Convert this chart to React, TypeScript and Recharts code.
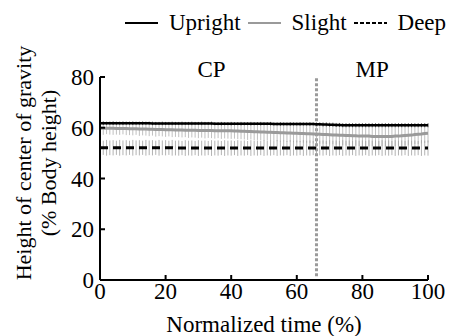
import React from 'react';
import { LineChart, Line, XAxis, YAxis, ErrorBar, ReferenceLine, ReferenceDot, Legend, Label } from 'recharts';

const FONT = '"Liberation Serif"';
const fontCss = `#root, #root *, .recharts-wrapper, .recharts-wrapper *, .recharts-wrapper svg text, .recharts-wrapper svg tspan { font-family: "Liberation Serif", "Times New Roman", Times, serif !important; }`;

const xTicks = [0, 20, 40, 60, 80, 100];
const yTicks = [0, 20, 40, 60, 80];
const phaseLabels = ['CP', 'MP'];
const phaseLabelX = [34, 83];
const phaseBoundary = 66;

const upright = [
  61.8, 61.8, 61.8, 61.8, 61.8, 61.8, 61.8, 61.8, 61.8, 61.8,
  61.8, 61.8, 61.8, 61.8, 61.8, 61.8, 61.7, 61.7, 61.7, 61.7,
  61.7, 61.7, 61.7, 61.7, 61.7, 61.7, 61.7, 61.7, 61.7, 61.7,
  61.7, 61.7, 61.7, 61.7, 61.7, 61.6, 61.6, 61.6, 61.6, 61.6,
  61.6, 61.6, 61.6, 61.6, 61.6, 61.6, 61.6, 61.6, 61.6, 61.6,
  61.6, 61.6, 61.6, 61.5, 61.5, 61.5, 61.5, 61.5, 61.5, 61.5,
  61.5, 61.5, 61.5, 61.5, 61.5, 61.5, 61.4, 61.4, 61.3, 61.3,
  61.2, 61.2, 61.1, 61.1, 61.0, 61.0, 61.0, 61.0, 61.0, 61.0,
  61.0, 61.0, 61.0, 61.0, 61.0, 61.0, 61.0, 61.0, 61.0, 61.0,
  61.0, 61.0, 61.0, 61.0, 61.0, 61.0, 61.0, 61.0, 61.0, 61.0,
  61.0,
];
const slight = [
  59.8, 59.8, 59.8, 59.8, 59.8, 59.7, 59.7, 59.7, 59.7, 59.6,
  59.6, 59.6, 59.5, 59.5, 59.5, 59.4, 59.4, 59.3, 59.3, 59.3,
  59.2, 59.2, 59.2, 59.1, 59.1, 59.1, 59.0, 59.0, 59.0, 59.0,
  58.9, 58.9, 58.9, 58.9, 58.9, 58.8, 58.8, 58.8, 58.8, 58.8,
  58.8, 58.7, 58.7, 58.6, 58.6, 58.5, 58.5, 58.4, 58.4, 58.3,
  58.3, 58.2, 58.2, 58.1, 58.1, 58.0, 58.0, 57.9, 57.9, 57.8,
  57.8, 57.7, 57.7, 57.6, 57.6, 57.5, 57.5, 57.4, 57.3, 57.3,
  57.2, 57.1, 57.1, 57.0, 57.0, 56.9, 56.9, 56.8, 56.8, 56.7,
  56.7, 56.7, 56.7, 56.6, 56.6, 56.6, 56.6, 56.6, 56.6, 56.6,
  56.7, 56.7, 56.8, 56.9, 57.0, 57.1, 57.3, 57.4, 57.5, 57.7,
  57.8,
];
const deep = [
  52.1, 52.1, 52.1, 52.1, 52.1, 52.1, 52.1, 52.1, 52.1, 52.1,
  52.1, 52.1, 52.1, 52.1, 52.1, 52.1, 52.1, 52.1, 52.1, 52.1,
  52.1, 52.1, 52.1, 52.0, 52.0, 52.0, 52.0, 52.0, 52.0, 52.0,
  52.0, 52.0, 52.0, 52.0, 52.0, 52.0, 52.0, 52.0, 52.0, 52.0,
  52.0, 52.0, 52.0, 52.0, 52.0, 52.0, 52.0, 52.0, 52.0, 52.0,
  52.0, 52.0, 52.0, 52.0, 52.0, 52.0, 52.0, 52.0, 52.0, 52.0,
  52.0, 52.0, 52.0, 52.0, 52.0, 52.0, 52.0, 52.0, 52.0, 52.0,
  52.0, 52.0, 52.0, 52.0, 52.0, 52.0, 52.0, 52.0, 52.0, 52.0,
  52.0, 52.0, 52.0, 52.0, 52.0, 52.0, 52.0, 52.0, 52.0, 52.0,
  52.0, 52.0, 52.0, 52.0, 52.0, 52.0, 52.0, 52.0, 52.0, 52.0,
  52.0,
];
const uprightErr = [
  0.6, 0.7, 0.6, 0.6, 0.7, 0.6, 0.6, 0.7, 0.6, 0.6,
  0.7, 0.6, 0.6, 0.7, 0.6, 0.6, 0.7, 0.6, 0.6, 0.7,
  0.6, 0.6, 0.7, 0.6, 0.6, 0.7, 0.6, 0.6, 0.7, 0.6,
  0.6, 0.7, 0.6, 0.6, 0.7, 0.6, 0.6, 0.7, 0.6, 0.6,
  0.7, 0.6, 0.6, 0.7, 0.6, 0.6, 0.7, 0.6, 0.6, 0.7,
  0.6, 0.6, 0.7, 0.6, 0.6, 0.7, 0.6, 0.6, 0.7, 0.6,
  0.6, 0.7, 0.6, 0.6, 0.7, 0.6, 0.7, 0.7, 0.8, 0.8,
  0.8, 0.8, 0.8, 0.8, 0.8, 0.8, 0.8, 0.8, 0.8, 0.8,
  0.8, 0.8, 0.8, 0.8, 0.8, 0.8, 0.8, 0.8, 0.8, 0.8,
  0.8, 0.8, 0.8, 0.8, 0.8, 0.8, 0.8, 0.8, 0.8, 0.8,
  0.8,
];
const slightErr = [
  2.4, 2.6, 2.3, 2.5, 2.6, 2.4, 2.5, 2.3, 2.6, 2.5,
  2.6, 2.4, 2.7, 2.5, 2.6, 2.7, 2.5, 2.8, 2.6, 2.7,
  2.8, 2.6, 2.9, 2.7, 2.8, 2.9, 2.7, 3.0, 2.8, 2.9,
  3.0, 2.8, 3.1, 2.9, 3.0, 3.1, 2.9, 3.2, 3.0, 3.1,
  3.2, 3.0, 3.2, 3.1, 3.2, 3.3, 3.1, 3.3, 3.2, 3.3,
  3.4, 3.2, 3.4, 3.3, 3.4, 3.5, 3.3, 3.5, 3.4, 3.5,
  3.6, 3.4, 3.6, 3.5, 3.6, 3.7, 3.5, 3.7, 3.6, 3.7,
  3.8, 3.6, 3.8, 3.7, 3.8, 3.9, 3.7, 3.9, 3.8, 3.9,
  3.9, 3.8, 4.0, 3.8, 3.9, 4.0, 3.8, 4.0, 3.9, 3.9,
  3.9, 3.8, 3.9, 3.8, 3.9, 3.8, 3.7, 3.8, 3.7, 3.7,
  3.6,
];
const deepErr = [
  3.0, 2.8, 3.1, 2.9, 3.0, 2.8, 3.1, 2.9, 3.0, 2.8,
  3.1, 2.9, 3.0, 2.8, 3.1, 2.9, 3.0, 2.8, 3.1, 2.9,
  3.0, 2.8, 3.1, 2.9, 3.0, 2.8, 3.1, 2.9, 3.0, 2.8,
  3.1, 2.9, 3.0, 2.8, 3.1, 2.9, 3.0, 2.8, 3.1, 2.9,
  3.0, 2.8, 3.1, 2.9, 3.0, 2.8, 3.1, 2.9, 3.0, 2.8,
  3.1, 2.9, 3.0, 2.8, 3.1, 2.9, 3.0, 2.8, 3.1, 2.9,
  3.0, 2.8, 3.1, 2.9, 3.0, 2.8, 3.1, 2.9, 3.0, 2.8,
  3.1, 2.9, 3.0, 2.8, 3.1, 2.9, 3.0, 2.8, 3.1, 2.9,
  3.0, 2.8, 3.1, 2.9, 3.0, 2.8, 3.1, 2.9, 3.0, 2.8,
  3.1, 2.9, 3.0, 2.8, 3.1, 2.9, 3.0, 2.8, 3.1, 2.9,
  3.0,
];

const data = upright.map((u, i) => ({
  t: i,
  upright: u,
  slight: slight[i],
  deep: deep[i],
  uprightErr: uprightErr[i],
  slightErr: slightErr[i],
  deepErr: deepErr[i],
}));

const seriesCfg = [
  { key: 'upright', name: 'Upright', color: '#000', dash: undefined as string | undefined },
  { key: 'slight', name: 'Slight', color: '#9a9a9a', dash: undefined as string | undefined },
  { key: 'deep', name: 'Deep', color: '#000', dash: '4 2' },
];

const LegendContent = () => (
  <div style={{ display: 'flex', alignItems: 'center', paddingLeft: 125, fontFamily: FONT, fontSize: 23, color: '#000', height: 30 }}>
    {seriesCfg.map((s, i) => (
      <div key={s.key} style={{ display: 'flex', alignItems: 'center', marginLeft: i === 0 ? 0 : 7 }}>
        <svg width={33} height={6} style={{ marginRight: 11 }}>
          <line x1={0} y1={3} x2={33} y2={3} stroke={s.color} strokeWidth={2} strokeDasharray={s.dash} />
        </svg>
        <span style={{ fontFamily: FONT }}>{s.name}</span>
      </div>
    ))}
  </div>
);

const YLabel = () => {
  const cy = 163;
  return (
    <g fill="#000">
      <text transform={`translate(31,${cy}) rotate(-90)`} textAnchor="middle" fontFamily={FONT} fontSize={22}>Height of center of gravity</text>
      <text transform={`translate(56,${cy}) rotate(-90)`} textAnchor="middle" fontFamily={FONT} fontSize={22}>(% Body height)</text>
    </g>
  );
};

const tickStyle = { fill: '#000', fontSize: 23, fontFamily: FONT };

export default function App() {
  return (
    <div style={{ position: 'absolute', left: 0, top: 0, width: 457, height: 336, background: '#fff', fontFamily: FONT }}>
      <style>{fontCss}</style>
      <LineChart width={457} height={336} data={data} margin={{ top: 77, right: 29, bottom: 0, left: 0 }}>
        <XAxis
          dataKey="t"
          type="number"
          domain={[0, 100]}
          ticks={xTicks}
          interval={0}
          height={56}
          tickSize={-5}
          tickMargin={8}
          axisLine={{ stroke: '#000', strokeWidth: 2 }}
          tickLine={{ stroke: '#000', strokeWidth: 2 }}
          tick={tickStyle}
        >
          <Label value="Normalized time (%)" position="insideBottom" offset={4} fill="#000" fontSize={23} fontFamily={FONT} />
        </XAxis>
        <YAxis
          type="number"
          domain={[0, 80]}
          ticks={yTicks}
          interval={0}
          width={100}
          tickSize={-5}
          tickMargin={11}
          axisLine={{ stroke: '#000', strokeWidth: 2 }}
          tickLine={{ stroke: '#000', strokeWidth: 2 }}
          tick={tickStyle}
        >
          <Label content={YLabel} />
        </YAxis>
        <Legend
          verticalAlign="middle"
          align="center"
          layout="horizontal"
          wrapperStyle={{ top: 8, left: 0, width: 457 }}
          content={LegendContent}
        />
        <ReferenceLine
          segment={[{ x: phaseBoundary, y: 1.5 }, { x: phaseBoundary, y: 79.5 }]}
          stroke="#9a9a9a"
          strokeWidth={3}
          strokeDasharray="3 2"
        />
        {phaseLabels.map((p, i) => (
          <ReferenceDot
            key={p}
            x={phaseLabelX[i]}
            y={80}
            r={0}
            fill="none"
            stroke="none"
            ifOverflow="visible"
            label={{ value: p, position: 'top', offset: 0, fill: '#000', fontSize: 23, fontFamily: FONT }}
          />
        ))}
        <Line dataKey="slight" stroke="#9a9a9a" strokeWidth={3} dot={false} isAnimationActive={false}>
          <ErrorBar dataKey="slightErr" width={0} stroke="#b0b0b0" strokeWidth={0.8} direction="y" />
        </Line>
        <Line dataKey="deep" stroke="#000" strokeWidth={3} strokeDasharray="8 5" dot={false} isAnimationActive={false}>
          <ErrorBar dataKey="deepErr" width={0} stroke="#a0a0a0" strokeWidth={0.8} direction="y" />
        </Line>
        <Line dataKey="upright" stroke="#000" strokeWidth={2.5} dot={false} isAnimationActive={false}>
          <ErrorBar dataKey="uprightErr" width={0} stroke="#333" strokeWidth={0.8} direction="y" />
        </Line>
      </LineChart>
    </div>
  );
}
